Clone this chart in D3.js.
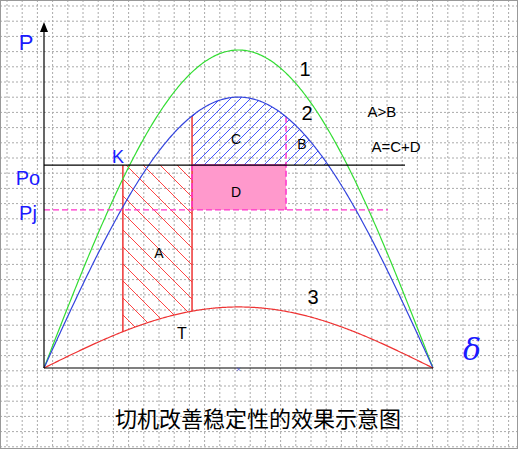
<!DOCTYPE html><html><head><meta charset="utf-8"><script src="https://d3js.org/d3.v7.min.js"></script>
<style>body{margin:0;background:#fff}</style></head><body><svg id="c" width="518" height="449"></svg>
<script>
const curveNames=["1","2","3"];
const curveMax=[100,85.2,19.2];
const curveColors=["#33dd33","#3344dd","#ee3333"];
const Po=63.8, Pj=49.7;
const deltaK=36.5, deltaC=68.5, deltaM=112;
const svg=d3.select("#c");
const x=d3.scaleLinear().domain([0,180]).range([44,433]);
const y=d3.scaleLinear().domain([0,100]).range([368,50]);
const g=svg.append("g");
for(let gx=7;gx<518;gx+=15.2) g.append("line").attr("x1",gx).attr("x2",gx).attr("y1",0).attr("y2",449).attr("stroke","#aaa").attr("stroke-dasharray","2,2").attr("stroke-width",1);
for(let gy=6;gy<449;gy+=15.2) g.append("line").attr("y1",gy).attr("y2",gy).attr("x1",0).attr("x2",518).attr("stroke","#aaa").attr("stroke-dasharray","2,2").attr("stroke-width",1);
svg.append("rect").attr("x",0.5).attr("y",0.5).attr("width",517).attr("height",448).attr("fill","none").attr("stroke","#999");
const defs=svg.append("defs");
const f=(m,d)=>m*Math.sin(d*Math.PI/180);
const rng=(a,b)=>d3.range(a,b,0.5).concat([b]);
function hatched(id,d,color,dir,s){
 defs.append("clipPath").attr("id",id).append("path").attr("d",d);
 const hg=svg.append("g").attr("clip-path",`url(#${id})`);
 for(let k=-600;k<1200;k+=s){
   if(dir>0) hg.append("line").attr("x1",k).attr("y1",449).attr("x2",k+449).attr("y2",0).attr("stroke",color).attr("stroke-width",1);
   else hg.append("line").attr("x1",k).attr("y1",0).attr("x2",k+449).attr("y2",449).attr("stroke",color).attr("stroke-width",1);
 }
}
const area=d3.area().x(d=>x(d)).y0(d=>y(f(curveMax[2],d))).y1(y(Po));
hatched("clA",area(rng(deltaK,deltaC)),"#ff4444",-1,17);
const dEnd=180-Math.asin(Po/curveMax[1])*180/Math.PI;
const a2=d3.area().x(d=>x(d)).y0(y(Po)).y1(d=>y(f(curveMax[1],d)));
hatched("clB",a2(rng(deltaC,dEnd)),"#4455ff",1,10);
svg.append("rect").attr("x",x(deltaC)).attr("y",y(Po)).attr("width",x(deltaM)-x(deltaC)).attr("height",y(Pj)-y(Po)).attr("fill","#ff99cc");
svg.append("line").attr("x1",x(deltaK)).attr("x2",x(deltaK)).attr("y1",y(Po)).attr("y2",y(f(curveMax[2],deltaK))).attr("stroke","#ee3333").attr("stroke-width",1.5);
svg.append("line").attr("x1",x(deltaC)).attr("x2",x(deltaC)).attr("y1",y(f(curveMax[1],deltaC))).attr("y2",y(f(curveMax[2],deltaC))).attr("stroke","#ee3333").attr("stroke-width",1.5);
svg.append("line").attr("x1",x(deltaC)).attr("x2",x(deltaC)).attr("y1",y(Po)).attr("y2",y(Pj)).attr("stroke","#ff33cc").attr("stroke-width",1.5).attr("stroke-dasharray","6,3");
svg.append("line").attr("x1",x(deltaM)).attr("x2",x(deltaM)).attr("y1",y(f(curveMax[1],deltaM))).attr("y2",y(Pj)).attr("stroke","#ff33cc").attr("stroke-width",1.5).attr("stroke-dasharray","6,3");
svg.append("line").attr("x1",x(deltaC)).attr("x2",x(deltaM)).attr("y1",y(Po)).attr("y2",y(Po)).attr("stroke","#ff33cc").attr("stroke-width",1.5);
const line=d3.line().x(d=>x(d[0])).y(d=>y(d[1]));
curveMax.forEach((m,i)=>svg.append("path").attr("d",line(rng(0,180).map(d=>[d,f(m,d)]))).attr("fill","none").attr("stroke",curveColors[i]).attr("stroke-width",1.2));
svg.append("line").attr("x1",x(0)).attr("x2",405).attr("y1",y(Po)).attr("y2",y(Po)).attr("stroke","#000").attr("stroke-width",1.2);
svg.append("line").attr("x1",x(0)).attr("x2",388).attr("y1",y(Pj)).attr("y2",y(Pj)).attr("stroke","#ff33cc").attr("stroke-width",1.2).attr("stroke-dasharray","6,3");
svg.append("line").attr("x1",x(0)).attr("x2",x(0)).attr("y1",368).attr("y2",32).attr("stroke","#000").attr("stroke-width",1.2);
svg.append("path").attr("d","M40,32L48,32L44,22Z").attr("fill","#000");
svg.append("line").attr("x1",x(0)).attr("x2",x(180)).attr("y1",368).attr("y2",368).attr("stroke","#000").attr("stroke-width",1.2);
svg.append("text").attr("x",x(90)).attr("y",372).attr("text-anchor","middle").attr("font-size",9).attr("fill","#3344dd").text("×");
const T=(t,px,py,s,c,fam)=>svg.append("text").attr("x",px).attr("y",py).attr("font-size",s).attr("fill",c||"#000").attr("font-family",fam||"Liberation Sans, sans-serif").attr("text-anchor","middle").text(t);
T("P",26,50,22,"#1a1aff");T("Po",28,185,20,"#1a1aff");T("Pj",28,220,20,"#1a1aff");T("K",118,163,18,"#1a1aff");
T("1",305,76,20);T("2",307,120,20);T("3",313,304,20);
T("A>B",382,117,15);T("A=C+D",396,152,15);
T("A",159,258,14);T("B",302,149,14);T("C",236,144,14);T("D",236,197,14);T("T",182,339,16);
T("δ",472,360,30,"#1a1aff","DejaVu Serif").attr("font-style","italic");
T("切机改善稳定性的效果示意图",258,427,22,"#000","Noto Sans CJK SC");
</script></body></html>
